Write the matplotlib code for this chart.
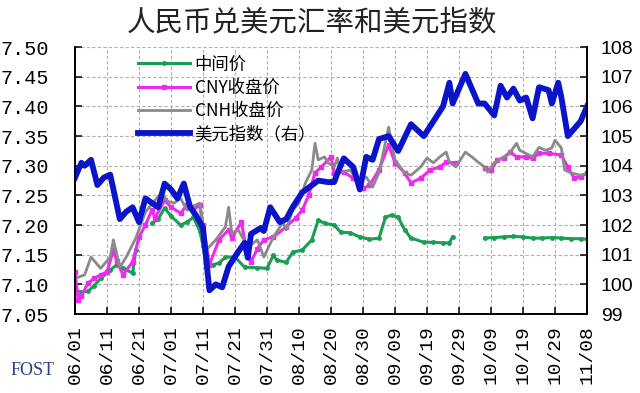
import numpy as np
import pandas as pd
import matplotlib
matplotlib.use("Agg")
import matplotlib.pyplot as plt

# days counted from 2023-06-01
mid_days = [0, 2, 4, 6, 8, 11, 13, 15, 18, 19, 21, 24, 26, 28, 30, 33, 35, 37, 39, 40, 41, 43, 45,
            47, 50, 53, 57, 60, 62, 63, 66, 68, 71, 74, 76, 78, 81, 83, 86, 89, 92, 95, 97, 99,
            101, 103, 105, 109, 112, 115, 117, 118, 123, 128, 131, 134, 137, 140, 143, 146, 149,
            152, 155, 158, 160]
mid_rate = [7.090, 7.087, 7.088, 7.098, 7.110, 7.124, 7.133, 7.127, 7.119, 7.158, np.nan, 7.203,
            7.210, 7.229, 7.215, 7.200, 7.205, 7.213, 7.190, 7.165, 7.133, 7.133, 7.136,
            7.146, 7.146, 7.129, 7.128, 7.127, 7.149, 7.141, 7.137, 7.154, 7.158, 7.175, 7.208,
            7.203, 7.200, 7.188, 7.187, 7.180, 7.176, 7.178, 7.213, 7.217, 7.213, 7.192, 7.178,
            7.171, 7.171, 7.170, 7.170, 7.180, np.nan, 7.178, 7.179, 7.180, 7.181, 7.180, 7.178,
            7.178, 7.179, 7.178, 7.177, 7.177, 7.176]

cny_days = [0, 1, 2, 4, 6, 8, 10, 12, 13, 15, 18, 20, 22, 24, 25, 28, 30, 33, 35, 37, 39, 40, 42,
            45, 48, 49, 52, 54, 55, 57, 59, 62, 66, 69, 71, 73, 75, 77, 80, 81, 84, 87, 90, 92,
            95, 98, 100, 103, 105, 108, 111, 114, 116, 119, 123, 128, 130, 132, 134, 136, 138,
            141, 143, 145, 148, 152, 154, 156, 158, 160]
cny_close = [7.121, 7.074, 7.080, 7.102, 7.110, 7.116, 7.121, 7.158, 7.140, 7.116, 7.138, 7.180,
             7.200, 7.225, 7.212, 7.242, 7.230, 7.220, 7.234, 7.226, 7.234, 7.200, 7.133,
             7.175, 7.192, 7.178, 7.205, 7.146, 7.138, 7.160, 7.175, 7.180, 7.197, 7.212, 7.225,
             7.250, 7.288, 7.298, 7.315, 7.288, 7.289, 7.279, 7.262, 7.267, 7.293, 7.335, 7.305,
             7.288, 7.271, 7.279, 7.293, 7.298, 7.306, 7.305, np.nan, 7.296, 7.293, 7.310, 7.313,
             7.323, 7.315, 7.315, 7.313, 7.321, 7.321, 7.318, 7.298, 7.279, 7.281, 7.288]

cnh_days = [0, 3, 5, 8, 11, 12, 14, 16, 19, 22, 25, 27, 29, 31, 33, 35, 37, 39, 41, 44, 47, 48,
            49, 51, 54, 57, 59, 62, 65, 66, 68, 70, 72, 74, 75, 76, 78, 79, 81, 82, 83, 86, 88,
            91, 93, 95, 98, 100, 103, 105, 108, 110, 112, 114, 116, 117, 119, 122, 124, 126, 128,
            129, 131, 134, 136, 138, 139, 143, 145, 147, 149, 150, 152, 153, 155, 158, 160]
cnh_close = [7.110, 7.116, 7.146, 7.127, 7.146, 7.175, 7.129, 7.146, 7.178, 7.222, 7.242, 7.254,
             7.240, 7.237, 7.245, 7.225, 7.232, 7.237, 7.158, 7.175, 7.197, 7.230, 7.186, 7.192,
             7.163, 7.175, 7.146, 7.180, 7.205, 7.192, 7.225, 7.237, 7.271, 7.293, 7.338, 7.310,
             7.315, 7.305, 7.298, 7.313, 7.288, 7.293, 7.276, 7.281, 7.264, 7.288, 7.365, 7.310,
             7.288, 7.284, 7.298, 7.313, 7.305, 7.315, 7.323, 7.306, 7.298, 7.323, 7.315, 7.306,
             7.298, 7.289, 7.305, 7.315, 7.323, 7.338, 7.326, 7.315, 7.331, 7.326, 7.330, 7.343,
             7.330, 7.293, 7.288, 7.284, 7.288]

dxy_days = [0, 2, 3, 5, 7, 9, 11, 14, 16, 18, 20, 22, 24, 26, 28, 30, 32, 34, 36, 38, 40, 42, 44,
            46, 48, 51, 53, 54, 55, 58, 59, 61, 64, 66, 68, 71, 76, 79, 81, 82, 84, 87, 89, 91,
            93, 95, 98, 101, 105, 109, 112, 115, 117, 118, 122, 126, 128, 131, 133, 135, 137,
            139, 141, 143, 145, 148, 149, 151, 152, 154, 158, 160]
dxy = [103.6, 104.1, 104.0, 104.2, 103.35, 103.6, 103.7, 102.2, 102.45, 102.6, 102.1, 102.9,
       102.75, 102.6, 103.4, 103.2, 102.9, 103.4, 102.6, 102.3, 101.9, 99.8, 100.0, 99.9, 100.6,
       101.1, 101.4, 100.9, 101.7, 101.9, 101.8, 102.6, 102.1, 102.2, 102.6, 103.1, 103.5,
       103.45, 103.45, 103.75, 104.25, 103.95, 103.2, 104.3, 104.2, 104.9, 105.0, 104.5, 105.4,
       105.0, 105.5, 106.0, 106.8, 106.1, 107.1, 106.1, 106.1, 105.7, 106.7, 106.3, 106.6,
       106.2, 106.3, 105.6, 106.65, 106.55, 106.1, 106.8, 106.3, 105.0, 105.5, 106.0]

labels = ["中间价", "CNY收盘价", "CNH收盘价", "美元指数（右）"]
start = pd.Timestamp("2023-06-01")
tick_days = np.arange(0, 161, 10)
tick_labels = [(start + pd.Timedelta(days=int(d))).strftime("%m/%d") for d in tick_days]

cjk = ["Noto Sans CJK SC", "DejaVu Sans"]

fig = plt.figure(figsize=(6.4, 3.93), dpi=100)
ax = fig.add_axes([0.1172, 0.201, 0.8, 0.679])
ax2 = ax.twinx()

l1, = ax.plot(mid_days, mid_rate, color="#1a9e52", lw=2.2, marker="o", ms=2.5)
l2, = ax.plot(cny_days, cny_close, color="#ee2aee", lw=2.2, marker="s", ms=2.5)
l3, = ax.plot(cnh_days, cnh_close, color="#8a8a8a", lw=2.0)
l4, = ax2.plot(dxy_days, dxy, color="#0a14c8", lw=4.2)

ax.set_xlim(0, 160)
ax.set_ylim(7.05, 7.50)
ax2.set_ylim(99, 108)
ax.set_yticks(np.arange(7.05, 7.501, 0.05))
ax.set_yticklabels(["%.2f" % v for v in np.arange(7.05, 7.501, 0.05)],
                   family="Liberation Mono", fontsize=14.5)
ax2.set_yticks(np.arange(99, 109, 1))
ax2.set_yticklabels([str(v) for v in range(99, 109)], family="Liberation Sans", fontsize=14)
ax.set_xticks(tick_days)
ax.set_xticklabels(tick_labels, rotation=90, family="Liberation Mono", fontsize=14)

ax.tick_params(axis="y", direction="in", length=5, width=1.1, pad=19)
ax.tick_params(axis="x", direction="in", length=5, width=1.1, pad=8)
ax2.tick_params(axis="y", direction="in", length=5, width=1.1, pad=10)

ax.grid(True, color="#b0b0b0", linestyle=(0, (3, 2)), linewidth=0.8)
ax.set_axisbelow(True)
for a in (ax, ax2):
    a.spines["top"].set_visible(False)
    for s in ("left", "right", "bottom"):
        a.spines[s].set_linewidth(1.2)

ax2.legend([l1, l2, l3, l4], labels, loc="upper left", bbox_to_anchor=(0.11, 0.995),
           frameon=False, prop={"family": cjk, "size": 12.5}, handlelength=3.0,
           handletextpad=0.25, labelspacing=0.3, borderaxespad=0)

fig.text(0.488, 0.944, "人民币兑美元汇率和美元指数", ha="center", va="center",
         family=cjk, fontsize=20.5, color="#222222")
fig.text(0.016, 0.058, "FOST", ha="left", va="center", family="Liberation Serif",
         fontsize=13, color="#2a3f8f")

fig.savefig("out.png", dpi=100, facecolor="white")
